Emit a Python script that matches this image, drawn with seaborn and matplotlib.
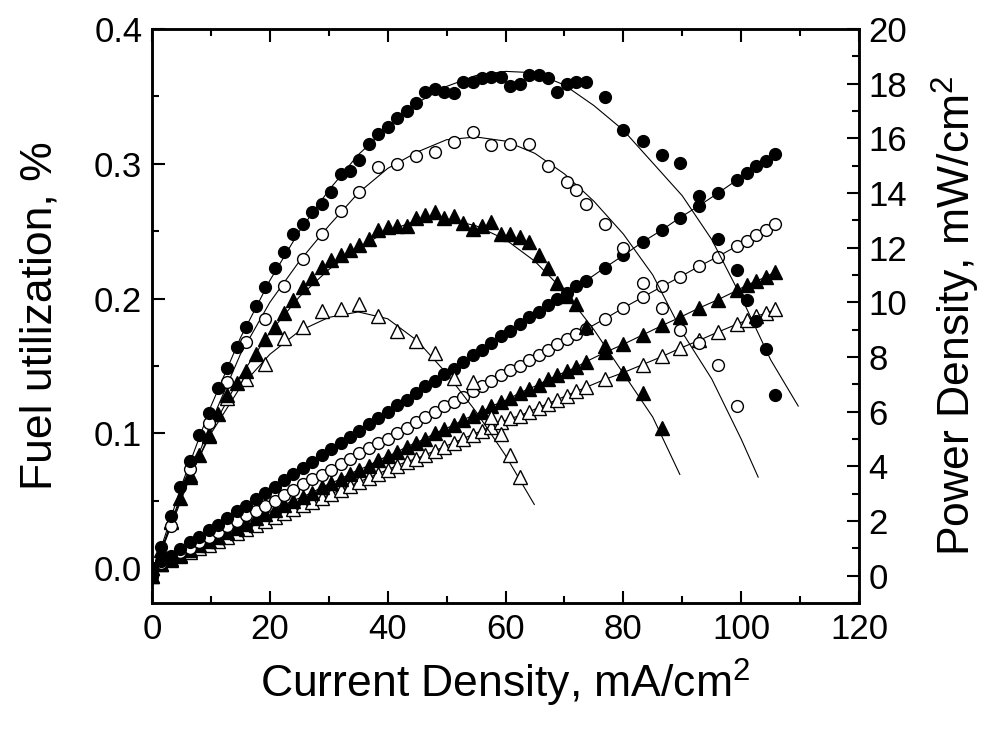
import numpy as np
import pandas as pd
import matplotlib as mpl
import matplotlib.pyplot as plt
from matplotlib.ticker import MultipleLocator, FormatStrFormatter
import seaborn as sns

# 스타일
sns.set_style("ticks")
plt.rcParams['font.family'] = ['Liberation Sans', 'DejaVu Sans']
plt.rcParams['mathtext.default'] = 'regular'
plt.rcParams['text.color'] = 'black'
plt.rcParams['axes.labelcolor'] = 'black'
plt.rcParams['xtick.color'] = 'black'
plt.rcParams['ytick.color'] = 'black'
plt.rcParams['axes.edgecolor'] = 'black'

# ---- 데이터 ----
# 전류밀도 (mA/cm2) : 연료이용률 / 출력밀도(●) 공통
x_dense = [0.0, 1.6, 3.2, 4.8, 6.4, 8.0, 9.6, 11.2, 12.8, 14.4, 16.0, 17.6, 19.2, 20.8,
           22.4, 24.0, 25.6, 27.2, 28.8, 30.4, 32.0, 33.6, 35.2, 36.8, 38.4, 40.0, 41.6,
           43.2, 44.8, 46.4, 48.0, 49.6, 51.2, 52.8, 54.4, 56.0, 57.6, 59.2, 60.8, 62.4,
           64.0, 65.6, 67.2, 68.8, 70.4, 72.0, 73.6, 76.9, 80.0, 83.3, 86.6, 89.6, 92.9,
           96.0, 99.3, 101.0, 102.6, 104.2, 105.8]

# 연료이용률 (왼쪽 축)
fu_fc = [0.000, 0.005, 0.009, 0.014, 0.019, 0.023, 0.028, 0.032, 0.037, 0.042, 0.046, 0.051,
         0.056, 0.060, 0.065, 0.070, 0.074, 0.079, 0.084, 0.088, 0.093, 0.097, 0.102, 0.107,
         0.111, 0.116, 0.121, 0.125, 0.130, 0.135, 0.139, 0.144, 0.148, 0.153, 0.158, 0.162,
         0.167, 0.172, 0.176, 0.181, 0.186, 0.190, 0.195, 0.200, 0.204, 0.209, 0.213, 0.223,
         0.232, 0.242, 0.251, 0.260, 0.269, 0.278, 0.288, 0.293, 0.298, 0.302, 0.307]
fu_oc = [0.000, 0.004, 0.008, 0.012, 0.015, 0.019, 0.023, 0.027, 0.031, 0.035, 0.039, 0.042,
         0.046, 0.050, 0.054, 0.058, 0.062, 0.066, 0.069, 0.073, 0.077, 0.081, 0.085, 0.089,
         0.093, 0.096, 0.100, 0.104, 0.108, 0.112, 0.116, 0.120, 0.123, 0.127, 0.131, 0.135,
         0.139, 0.143, 0.147, 0.150, 0.154, 0.158, 0.162, 0.166, 0.170, 0.174, 0.177, 0.185,
         0.193, 0.201, 0.209, 0.216, 0.224, 0.231, 0.239, 0.243, 0.247, 0.251, 0.255]
fu_ft = [0.000, 0.003, 0.007, 0.010, 0.013, 0.017, 0.020, 0.023, 0.027, 0.030, 0.033, 0.037,
         0.040, 0.043, 0.047, 0.050, 0.053, 0.056, 0.060, 0.063, 0.066, 0.070, 0.073, 0.076,
         0.080, 0.083, 0.086, 0.090, 0.093, 0.096, 0.100, 0.103, 0.106, 0.110, 0.113, 0.116,
         0.120, 0.123, 0.126, 0.130, 0.133, 0.136, 0.140, 0.143, 0.146, 0.149, 0.153, 0.160,
         0.166, 0.173, 0.180, 0.186, 0.193, 0.199, 0.206, 0.210, 0.213, 0.216, 0.220]
fu_ot = [0.000, 0.003, 0.006, 0.009, 0.012, 0.015, 0.017, 0.020, 0.023, 0.026, 0.029, 0.032,
         0.035, 0.038, 0.041, 0.044, 0.047, 0.049, 0.052, 0.055, 0.058, 0.061, 0.064, 0.067,
         0.070, 0.073, 0.076, 0.079, 0.081, 0.084, 0.087, 0.090, 0.093, 0.096, 0.099, 0.102,
         0.105, 0.108, 0.111, 0.113, 0.116, 0.119, 0.122, 0.125, 0.128, 0.131, 0.134, 0.140,
         0.145, 0.151, 0.157, 0.163, 0.169, 0.175, 0.181, 0.184, 0.187, 0.189, 0.192]

# 출력밀도 (오른쪽 축, mW/cm2)
pd_fc = [0.0, 1.05, 2.2, 3.25, 4.2, 5.15, 5.95, 6.85, 7.6, 8.35, 9.1, 9.85, 10.55, 11.25,
         11.85, 12.5, 12.85, 13.3, 13.6, 14.05, 14.7, 14.8, 15.2, 15.8, 16.15, 16.4, 16.75,
         17.0, 17.3, 17.7, 17.8, 17.7, 17.65, 18.05, 18.05, 18.2, 18.25, 18.25, 17.9, 18.0,
         18.3, 18.3, 18.2, 17.7, 18.0, 18.05, 18.05, 17.5, 16.3, 15.9, 15.4, 15.1, 13.9,
         12.3, 11.2, 10.1, 9.3, 8.3, 6.6]

x_oc = [0.0, 3.2, 6.4, 9.6, 12.8, 16.0, 19.2, 22.4, 25.6, 28.8, 32.0, 35.2, 38.4, 41.6,
        44.8, 48.0, 51.2, 54.4, 57.6, 60.8, 64.0, 67.2, 70.4, 72.0, 73.6, 76.9, 80.0, 83.3,
        86.6, 89.6, 92.9, 96.0, 99.3]
pd_oc = [0.0, 1.8, 3.9, 5.6, 7.1, 8.55, 9.4, 10.6, 11.6, 12.5, 13.35, 14.05, 14.95, 15.05,
         15.35, 15.5, 15.85, 16.25, 15.75, 15.8, 15.8, 15.0, 14.4, 14.1, 13.6, 12.85, 12.0,
         10.7, 9.8, 9.0, 8.5, 7.7, 6.2]

x_ft = [0.0, 1.6, 3.2, 4.8, 6.4, 8.0, 9.6, 11.2, 12.8, 14.4, 16.0, 17.6, 19.2, 20.8,
        22.4, 24.0, 25.6, 27.2, 28.8, 30.4, 32.0, 33.6, 35.2, 36.8, 38.4, 40.0, 41.6,
        43.2, 44.8, 46.4, 48.0, 49.6, 51.2, 52.8, 54.4, 56.0, 57.6, 59.2, 60.8, 62.4,
        64.0, 65.6, 67.2, 68.8, 70.4, 72.0, 73.6, 76.9, 80.0, 83.3, 86.6]
pd_ft = [0.0, 0.95, 1.95, 2.85, 3.6, 4.4, 5.15, 5.9, 6.6, 7.05, 7.5, 8.1, 8.65, 9.1, 9.6,
         10.1, 10.55, 10.9, 11.3, 11.55, 11.75, 11.9, 12.1, 12.3, 12.65, 12.75, 12.8, 12.8,
         13.1, 13.2, 13.3, 13.1, 13.15, 12.9, 12.7, 12.8, 12.95, 12.5, 12.5, 12.4, 12.2,
         11.75, 11.25, 10.7, 10.25, 9.95, 9.1, 8.4, 7.4, 6.7, 5.4]

x_ot = [0.0, 3.2, 6.4, 9.6, 12.8, 16.0, 19.2, 22.4, 25.6, 28.8, 32.0, 35.2, 38.4, 41.6,
        44.8, 48.0, 51.2, 54.4, 57.6, 59.2, 60.8, 62.4]
pd_ot = [0.0, 2.0, 3.7, 5.1, 6.5, 7.2, 7.75, 8.7, 9.1, 9.7, 9.75, 9.95, 9.5, 8.95, 8.57,
         8.14, 7.22, 7.09, 5.8, 5.2, 4.4, 3.6]

# 피팅 곡선 (출력밀도)
fit_x_fc = [0, 5, 10, 15, 20, 25, 30, 35, 40, 45, 50, 55, 60, 65, 70, 75, 80, 85, 90, 95,
            100, 105, 109.7]
fit_y_fc = [0.0, 3.3, 6.2, 8.7, 10.8, 12.6, 14.1, 15.4, 16.4, 17.3, 17.9, 18.3, 18.45,
            18.4, 17.95, 17.2, 16.3, 15.1, 13.9, 12.3, 10.2, 7.9, 6.2]
fit_x_oc = [0, 5, 10, 15, 20, 25, 30, 35, 40, 45, 50, 55, 60, 65, 70, 75, 80, 85, 90, 95,
            100, 102.9]
fit_y_oc = [0.0, 2.8, 5.6, 8.1, 10.0, 11.5, 12.8, 14.0, 14.9, 15.5, 15.95, 16.05, 15.9,
            15.45, 14.7, 13.7, 12.5, 11.0, 8.9, 7.2, 5.0, 3.6]
fit_x_ft = [0, 5, 10, 15, 20, 25, 30, 35, 40, 45, 50, 55, 60, 65, 70, 75, 80, 85, 89.6]
fit_y_ft = [0.0, 2.9, 5.3, 7.3, 8.9, 10.2, 11.2, 12.0, 12.6, 13.0, 13.05, 12.8, 12.3,
            11.5, 10.4, 9.0, 7.4, 5.8, 3.7]
fit_x_ot = [0, 5, 10, 15, 20, 25, 30, 35, 40, 45, 50, 55, 60, 64.9]
fit_y_ot = [0.0, 3.0, 5.2, 6.9, 8.1, 8.95, 9.45, 9.65, 9.4, 8.6, 7.4, 6.0, 4.4, 2.6]

# ---- 그림 ----
fig = plt.figure(figsize=(9.91, 7.29), dpi=100)
ax1 = fig.add_axes([0.1534, 0.1728, 0.7134, 0.7874])
ax2 = ax1.twinx()

# 마커 설정 : (모양, 채움색, 크기)
styles = {"fc": ("o", "black", 8.5), "oc": ("o", "white", 8.5),
          "ft": ("^", "black", 9.5), "ot": ("^", "white", 9.5)}

# 연료이용률 - 선 + 마커
for key, yv in [("ot", fu_ot), ("ft", fu_ft), ("oc", fu_oc), ("fc", fu_fc)]:
    m, fc, ms = styles[key]
    sns.lineplot(x=x_dense, y=yv, ax=ax1, color="black", lw=0.8, marker=m,
                 markersize=ms, markerfacecolor=fc, markeredgecolor="black",
                 markeredgewidth=1.0, estimator=None, sort=False)

# 출력밀도 - 피팅선
for fx, fy in [(fit_x_fc, fit_y_fc), (fit_x_oc, fit_y_oc),
               (fit_x_ft, fit_y_ft), (fit_x_ot, fit_y_ot)]:
    sns.lineplot(x=fx, y=fy, ax=ax2, color="black", lw=0.8, estimator=None, sort=False)

# 출력밀도 - 마커
for key, xv, yv in [("ot", x_ot, pd_ot), ("ft", x_ft, pd_ft),
                    ("oc", x_oc, pd_oc), ("fc", x_dense, pd_fc)]:
    m, fc, ms = styles[key]
    ax2.plot(xv, yv, linestyle="none", marker=m, markersize=ms,
             markerfacecolor=fc, markeredgecolor="black", markeredgewidth=1.0)

# 축 범위 / 눈금
ax1.set_xlim(0, 120)
ax1.set_ylim(-0.026, 0.4)
ax2.set_ylim(-1.0, 20)
ax1.xaxis.set_major_locator(MultipleLocator(20))
ax1.xaxis.set_minor_locator(MultipleLocator(10))
ax1.yaxis.set_major_locator(MultipleLocator(0.1))
ax1.yaxis.set_minor_locator(MultipleLocator(0.05))
ax1.yaxis.set_major_formatter(FormatStrFormatter('%.1f'))
ax2.yaxis.set_major_locator(MultipleLocator(2))
ax2.yaxis.set_minor_locator(MultipleLocator(1))

ax1.tick_params(axis='both', which='both', direction='in', width=1.5,
                labelsize=25, top=True, right=False, pad=7)
ax1.tick_params(which='major', length=9)
ax1.tick_params(which='minor', length=5)
ax2.tick_params(axis='y', which='both', direction='in', width=1.5, labelsize=25, pad=7)
ax2.tick_params(which='major', length=9)
ax2.tick_params(which='minor', length=5)

for ax in (ax1, ax2):
    for s in ax.spines.values():
        s.set_linewidth(1.8)
        s.set_color("black")
        s.set_visible(True)

ax1.set_xlabel("Current Density, mA/cm$^2$", fontsize=32, labelpad=8)
ax1.set_ylabel("Fuel utilization, %", fontsize=32, labelpad=24)
ax2.set_ylabel("Power Density, mW/cm$^2$", fontsize=32, labelpad=16)

fig.savefig("out.png", dpi=100)
